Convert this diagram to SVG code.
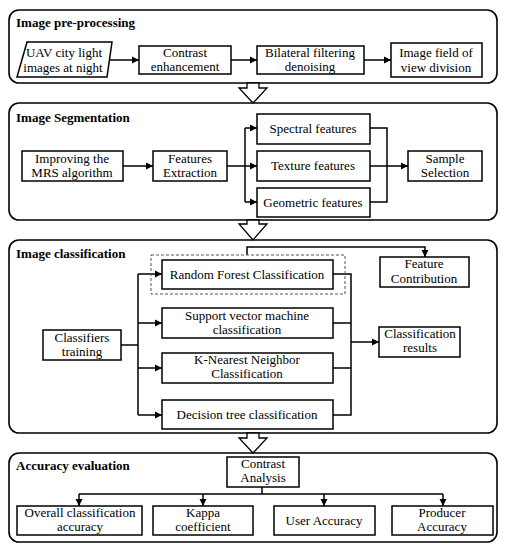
<svg xmlns="http://www.w3.org/2000/svg" width="508" height="550" viewBox="0 0 508 550">
<defs>
<marker id="ah" markerWidth="8" markerHeight="8" refX="7" refY="4" orient="auto" markerUnits="userSpaceOnUse">
<path d="M0,0.5 L7,4 L0,7.5 Z" fill="#000"/>
</marker>
<style>
.panel{fill:#fff;stroke:#000;stroke-width:1.6}
.box{fill:#fff;stroke:#000;stroke-width:1.5}
.dash{fill:none;stroke:#555;stroke-width:1;stroke-dasharray:3,2}
.ln{fill:none;stroke:#000;stroke-width:1.5}
.arr{fill:none;stroke:#000;stroke-width:1.5;marker-end:url(#ah)}
.big{fill:#fff;stroke:#000;stroke-width:1.3}
.t{font-family:"Liberation Serif","Times New Roman",serif;font-size:13px;fill:#000;text-anchor:middle}
.h{font-family:"Liberation Serif","Times New Roman",serif;font-size:13px;font-weight:bold;fill:#000}
</style>
</defs>

<g id="panels">
<rect id="p1" class="panel" x="9" y="10" width="488" height="73" rx="10"/>
<rect id="p2" class="panel" x="9" y="103" width="488" height="117" rx="10"/>
<rect id="p3" class="panel" x="9" y="240" width="488" height="193" rx="10"/>
<rect id="p4" class="panel" x="9" y="453" width="488" height="89" rx="10"/>
<text class="h" x="16" y="27">Image pre-processing</text>
<text class="h" x="16" y="122">Image Segmentation</text>
<text class="h" x="16" y="258">Image classification</text>
<text class="h" x="16" y="470">Accuracy evaluation</text>
</g>

<g id="bigarrows">
<polygon class="big" points="247,83 259,83 259,88 267,88 253,103 239,88 247,88"/>
<polygon class="big" points="247,220 259,220 259,224 267,224 253,240 239,224 247,224"/>
<polygon class="big" points="247,433 259,433 259,438 267,438 253,453 239,438 247,438"/>
</g>

<g id="connectors">
<line class="arr" x1="108" y1="60" x2="139" y2="60"/>
<line class="arr" x1="231" y1="60" x2="257" y2="60"/>
<line class="arr" x1="364" y1="60" x2="391" y2="60"/>

<line class="arr" x1="123" y1="166" x2="153" y2="166"/>
<line class="ln" x1="227" y1="166" x2="245" y2="166"/>
<line class="ln" x1="245" y1="128" x2="245" y2="202"/>
<line class="arr" x1="245" y1="128" x2="257" y2="128"/>
<line class="arr" x1="245" y1="166" x2="257" y2="166"/>
<line class="arr" x1="245" y1="202" x2="257" y2="202"/>
<path class="ln" d="M370,128 H387 V202 H370"/>
<line class="arr" x1="370" y1="166" x2="408" y2="166"/>

<line class="ln" x1="121" y1="345" x2="138" y2="345"/>
<line class="ln" x1="138" y1="274" x2="138" y2="415"/>
<line class="arr" x1="138" y1="274" x2="162" y2="274"/>
<line class="arr" x1="138" y1="323" x2="162" y2="323"/>
<line class="arr" x1="138" y1="368" x2="162" y2="368"/>
<line class="arr" x1="138" y1="415" x2="162" y2="415"/>
<path class="ln" d="M333,274 H351 V415 H333"/>
<line class="ln" x1="333" y1="323" x2="351" y2="323"/>
<line class="ln" x1="333" y1="368" x2="351" y2="368"/>
<line class="arr" x1="351" y1="342" x2="379" y2="342"/>
<path class="arr" d="M247,255 V247 H425 V257"/>

<line class="ln" x1="262" y1="487" x2="262" y2="494"/>
<line class="ln" x1="79" y1="494" x2="443" y2="494"/>
<line class="arr" x1="79" y1="494" x2="79" y2="506"/>
<line class="arr" x1="203" y1="494" x2="203" y2="506"/>
<line class="arr" x1="324" y1="494" x2="324" y2="506"/>
<line class="arr" x1="443" y1="494" x2="443" y2="506"/>
</g>

<g id="n-uav"><polygon class="box" points="27,42 112,42 107,77 17,77"/><text class="t" x="64" y="57">UAV city light</text><text class="t" x="63" y="72">images at night</text></g>
<g id="n-contrast"><rect class="box" x="139" y="46" width="92" height="28"/><text class="t" x="185" y="57">Contrast</text><text class="t" x="185" y="71">enhancement</text></g>
<g id="n-bilateral"><rect class="box" x="257" y="46" width="107" height="28"/><text class="t" x="310" y="57">Bilateral filtering</text><text class="t" x="310" y="71">denoising</text></g>
<g id="n-field"><rect class="box" x="391" y="43" width="91" height="34"/><text class="t" x="436" y="57">Image field of</text><text class="t" x="436" y="72">view division</text></g>

<g id="n-mrs"><rect class="box" x="22" y="151" width="101" height="30"/><text class="t" x="72" y="163">Improving the</text><text class="t" x="72" y="177">MRS algorithm</text></g>
<g id="n-extract"><rect class="box" x="153" y="151" width="74" height="30"/><text class="t" x="190" y="163">Features</text><text class="t" x="190" y="177">Extraction</text></g>
<g id="n-spectral"><rect class="box" x="257" y="114" width="113" height="30"/><text class="t" x="313" y="133">Spectral features</text></g>
<g id="n-texture"><rect class="box" x="257" y="151" width="113" height="30"/><text class="t" x="313" y="170">Texture features</text></g>
<g id="n-geometric"><rect class="box" x="257" y="188" width="113" height="29"/><text class="t" x="313" y="207">Geometric features</text></g>
<g id="n-sample"><rect class="box" x="408" y="151" width="74" height="30"/><text class="t" x="445" y="163">Sample</text><text class="t" x="445" y="177">Selection</text></g>

<g id="n-train"><rect class="box" x="43" y="330" width="78" height="30"/><text class="t" x="82" y="342">Classifiers</text><text class="t" x="82" y="356">training</text></g>
<g id="n-rf"><rect class="dash" x="151" y="255" width="194" height="39"/><rect class="box" x="162" y="260" width="171" height="29"/><text class="t" x="247" y="279">Random Forest Classification</text></g>
<g id="n-svm"><rect class="box" x="162" y="308" width="171" height="30"/><text class="t" x="247" y="320">Support vector machine</text><text class="t" x="247" y="334">classification</text></g>
<g id="n-knn"><rect class="box" x="162" y="353" width="171" height="30"/><text class="t" x="247" y="364">K-Nearest Neighbor</text><text class="t" x="247" y="378">Classification</text></g>
<g id="n-dt"><rect class="box" x="162" y="400" width="171" height="29"/><text class="t" x="247" y="419">Decision tree classification</text></g>
<g id="n-contrib"><rect class="box" x="380" y="257" width="89" height="30"/><text class="t" x="424" y="268">Feature</text><text class="t" x="424" y="283">Contribution</text></g>
<g id="n-results"><rect class="box" x="379" y="327" width="81" height="30"/><text class="t" x="420" y="338">Classification</text><text class="t" x="420" y="352">results</text></g>

<g id="n-analysis"><rect class="box" x="227" y="457" width="72" height="30"/><text class="t" x="263" y="468">Contrast</text><text class="t" x="263" y="482">Analysis</text></g>
<g id="n-overall"><rect class="box" x="17" y="506" width="125" height="29"/><text class="t" x="80" y="517">Overall classification</text><text class="t" x="80" y="531">accuracy</text></g>
<g id="n-kappa"><rect class="box" x="153" y="506" width="100" height="29"/><text class="t" x="203" y="517">Kappa</text><text class="t" x="203" y="531">coefficient</text></g>
<g id="n-user"><rect class="box" x="274" y="506" width="101" height="29"/><text class="t" x="324" y="525">User Accuracy</text></g>
<g id="n-producer"><rect class="box" x="392" y="506" width="101" height="29"/><text class="t" x="442" y="517">Producer</text><text class="t" x="442" y="531">Accuracy</text></g>
</svg>
